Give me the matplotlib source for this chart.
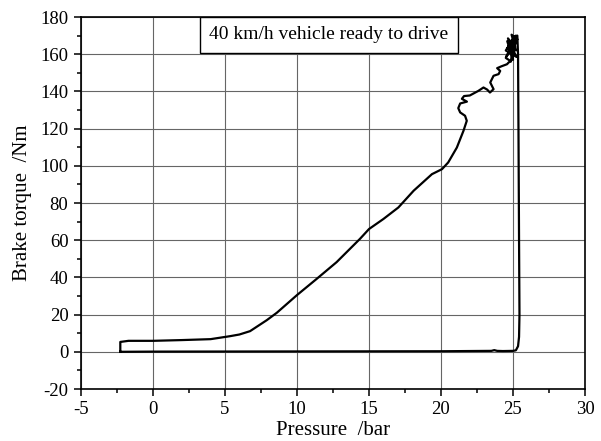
import matplotlib
matplotlib.use("Agg")
import matplotlib.pyplot as plt
from matplotlib.ticker import MultipleLocator
from matplotlib.patches import Rectangle

plt.rcParams['font.family'] = ['Liberation Serif', 'DejaVu Serif']
plt.rcParams['axes.unicode_minus'] = False

# Pressure (bar) and brake torque (Nm) along the recorded loop
pressure = [-2.27, -2.27, -1.7, 0.0, 2.0, 4.0, 5.35, 6.0, 6.74, 7.9, 8.6, 10.0,
            11.35, 12.75, 14.37, 15.0, 16.0, 17.04, 18.1, 19.37, 20.07, 20.5,
            21.1, 21.56, 21.79, 21.67, 21.33, 21.2, 21.33, 21.8, 21.45, 21.6,
            22.0, 22.6, 22.95, 23.2, 23.4, 23.65, 23.42, 23.65, 24.0, 24.11,
            23.9, 24.2, 24.58, 24.81,
            24.5, 25.0, 24.6, 25.1, 24.7, 25.2, 24.8, 25.0, 24.6, 25.2, 24.9, 25.3,
            24.55, 25.15, 24.65, 25.05, 24.75, 25.25, 24.5, 25.1, 24.85, 25.3,
            25.35, 25.38, 25.42, 25.45, 25.42, 25.35, 25.2, 25.0, 24.3, 23.9,
            23.7, 23.5, 20.0, 10.0, 0.0, -2.27]
torque = [0.0, 5.3, 5.9, 5.9, 6.3, 6.8, 8.4, 9.3, 11.1, 17.0, 21.0, 30.5,
          39.1, 48.2, 60.7, 66.0, 71.4, 77.6, 86.6, 95.5, 98.2, 101.8,
          109.8, 118.8, 124.2, 126.9, 128.7, 131.0, 133.5, 134.5, 136.0, 137.5,
          137.8, 140.3, 142.1, 141.0, 139.4, 141.2, 144.8, 148.4, 149.3, 151.0,
          152.5, 153.5, 154.6, 156.4,
          158.0, 166.0, 163.0, 169.0, 161.0, 170.0, 165.0, 157.0, 167.0, 162.0, 170.5, 168.0,
          159.0, 164.0, 168.5, 160.0, 166.0, 158.5, 162.0, 169.5, 156.0, 170.0,
          160.0, 120.0, 60.0, 20.0, 8.0, 3.0, 0.8, 0.5, 0.4, 0.5,
          0.9, 0.5, 0.3, 0.2, 0.1, 0.0]

x_ticks = [-5, 0, 5, 10, 15, 20, 25, 30]
y_ticks = [-20, 0, 20, 40, 60, 80, 100, 120, 140, 160, 180]
annotation = "40 km/h vehicle ready to drive"

fig = plt.figure(figsize=(6.01, 4.41), dpi=100)
ax = fig.add_axes([81/601, 1 - 389/441, 504/601, 372/441])

ax.plot(pressure, torque, color='black', lw=1.6, zorder=3)

ax.set_xlim(-5, 30)
ax.set_ylim(-20, 180)
ax.set_xticks(x_ticks)
ax.set_yticks(y_ticks)
ax.xaxis.set_minor_locator(MultipleLocator(2.5))
ax.yaxis.set_minor_locator(MultipleLocator(10))
ax.tick_params(which='major', direction='out', length=5, width=1.1, labelsize=13.5,
               color='black', pad=4)
ax.tick_params(which='minor', direction='out', length=3, width=1.1, color='black')
ax.grid(True, which='major', color='#666666', lw=0.8, zorder=1)
for s in ax.spines.values():
    s.set_linewidth(1.2)
    s.set_color('black')

ax.set_xlabel('Pressure  /bar', fontsize=15, labelpad=2)
ax.set_ylabel('Brake torque  /Nm', fontsize=15, labelpad=6)

# annotation box at top of axes
ax.add_patch(Rectangle((0.236, 0.903), 0.512, 0.097, transform=ax.transAxes,
                       facecolor='white', edgecolor='black', lw=1.0, zorder=4))
ax.text(0.492, 0.952, annotation, transform=ax.transAxes, ha='center', va='center',
        fontsize=14, zorder=5)

fig.savefig('out.png', dpi=100)
